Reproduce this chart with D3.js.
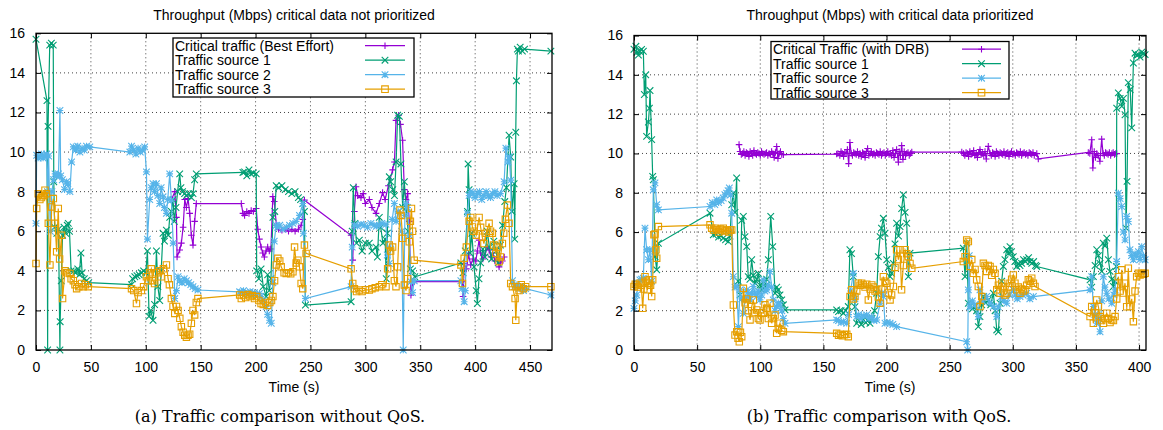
<!DOCTYPE html>
<html>
<head>
<meta charset="utf-8">
<script src="https://cdn.jsdelivr.net/npm/d3@7"></script>
<style>
  body { margin: 0; background: #fff; }
  text { font-family: "Liberation Sans", Arial, sans-serif; }
</style>
</head>
<body>
<svg id="chart" width="1163" height="430"></svg>
<script>
// ---- data: [time (s), throughput (Mbps)] ----
const yTicks = [0, 2, 4, 6, 8, 10, 12, 14, 16];
const leftXTicks = [0, 50, 100, 150, 200, 250, 300, 350, 400, 450];
const rightXTicks = [0, 50, 100, 150, 200, 250, 300, 350, 400];

const leftLegend = ["Critical traffic (Best Effort)", "Traffic source 1", "Traffic source 2", "Traffic source 3"];
const rightLegend = ["Critical Traffic (with DRB)", "Traffic source 1", "Traffic source 2", "Traffic source 3"];

const leftCritical = [[123.5,7.6],[126.4,8.0],[127.9,6.7],[128.5,4.7],[130.9,5.05],[132.4,5.4],[134,6.2],[135.5,7.6],[137,7.2],[138.5,7.65],[140,6.9],[141.5,5.8],[143,5.3],[144.5,6.5],[146,7.4],[187,7.4],[188.5,6.9],[190,6.8],[192,7.0],[194,6.9],[196,7.05],[198,7.0],[200.6,7.15],[202,6.1],[203.5,5.6],[205,5.2],[206.5,4.9],[208,4.7],[209.5,5.0],[211,5.2],[212.5,5.0],[214,5.1],[215.7,7.75],[217,7.5],[219,6.3],[221,6.1],[224,6.05],[227,6.1],[230,6.0],[233,6.1],[236,6.0],[239,6.1],[241.5,6.3],[243,6.6],[244.5,7.57],[287,5.8],[288.5,4.54],[290,7.0],[291.5,8.25],[293,7.8],[296,7.7],[298,7.9],[300,7.4],[303.6,7.6],[306,7.2],[309.7,6.9],[312.7,7.4],[315.7,7.95],[318,7.6],[321,8.3],[324.8,9.1],[326.5,9.5],[327.9,11.6],[330.3,11.86],[332,11.4],[333.9,10.6],[335.5,8.1],[337,7.6],[338.5,7.9],[340,6.5],[341.5,2.77],[343,3.4],[344.5,3.45],[388.5,3.45],[389,2.7],[390,4.37],[392,4.1],[394,4.8],[396,4.3],[398,4.6],[400.6,4.5],[402,5.0],[403.6,5.55],[405,4.9],[407,4.6],[409,4.8],[411,5.2],[412.7,5.05],[414.5,4.7],[416,4.9],[418,4.5],[420,4.7],[421.8,4.2],[423,4.4],[424.8,4.5],[426.5,4.7]];

const leftSrc1 = [[0,15.7],[10,12.6],[10.6,0],[11,11.3],[12.5,15.4],[14,15.5],[15.7,15.4],[16.2,8.5],[17,6.2],[19,5.9],[20.5,6.1],[21.8,0],[22,1.43],[23,3.5],[24.2,5.8],[25.5,6.2],[27,5.9],[28.5,6.3],[29.4,6.4],[30.5,6.0],[32,4.0],[34.5,4.0],[36,3.9],[38,4.1],[39.5,3.8],[40.9,4.9],[42,3.9],[44,3.6],[46,3.5],[48,3.4],[87,3.3],[88,3.6],[90,3.7],[92,3.75],[94,3.8],[96,3.9],[98,4.0],[100,3.9],[101.5,5.0],[103,1.7],[104.5,2.0],[106.6,1.5],[108,2.3],[109.7,5.0],[111,3.2],[112.7,2.5],[114,4.0],[115.7,5.9],[117,5.5],[118.8,6.05],[120.5,5.8],[121.8,6.7],[123.3,7.0],[124.8,7.6],[126,6.5],[127.5,7.2],[129,8.0],[130.9,8.9],[132,8.2],[133.5,8.0],[135.4,7.9],[137,7.8],[139,7.9],[141.5,7.7],[143,7.9],[144.5,8.6],[146,8.9],[188.5,8.97],[190,9.0],[192,8.8],[194,9.1],[196,8.9],[198,8.95],[200.6,8.9],[201,4.0],[203,3.6],[205,4.1],[207,3.2],[209.7,2.7],[211,3.8],[212.5,3.0],[214,3.6],[215.8,6.7],[217.5,7.0],[218.8,8.3],[221,8.2],[224,8.3],[227,8.1],[230,8.0],[233,7.9],[236,8.0],[239,7.7],[241,7.6],[243,7.4],[244.5,7.0],[245.4,2.27],[287,2.44],[288,6.0],[289,8.2],[290.5,6.4],[292,5.4],[294.5,5.55],[297,5.0],[300,5.4],[303.6,5.4],[306,5.0],[309.7,5.2],[311,4.7],[312.7,6.7],[314,6.2],[316,5.4],[318,5.6],[319,3.6],[320,5.9],[321.8,8.75],[323,8.5],[325,8.1],[326.5,7.8],[328,9.5],[329.4,11.86],[331,11.8],[332.4,9.4],[334,7.2],[335.5,8.5],[337,7.2],[339,6.0],[341,4.1],[343,4.0],[345,3.7],[387,4.4],[389,3.9],[391,5.0],[393,7.0],[393.6,9.4],[394.5,8.1],[395.5,4.9],[397,5.9],[399,4.2],[401,3.0],[402,2.35],[403.5,3.6],[405,4.4],[407,5.1],[409,4.7],[411,6.0],[413,5.2],[415,4.6],[417,5.5],[419,5.0],[421,4.4],[423,5.3],[425,6.3],[427,7.5],[428.5,8.2],[430.9,10.85],[432.4,9.75],[433.5,7.0],[435.5,8.4],[436,5.6],[437,11.0],[437.6,13.6],[438.5,15.2],[439.4,15.1],[441,15.3],[443,15.1],[445,15.2],[469,15.1]];

const leftSrc2 = [[0,6.4],[0.6,9.84],[2,9.7],[3.6,9.76],[5,9.9],[6.5,9.7],[8,9.8],[9.7,9.9],[10.5,8.0],[11.5,9.8],[13,6.0],[14.5,8.0],[16,8.6],[17.3,8.9],[19,8.8],[20.5,8.9],[21.8,12.1],[22.5,8.8],[24,8.6],[26,8.1],[27.9,8.5],[29,8.4],[30.9,8.0],[32.4,9.5],[34,10.26],[36,10.1],[38,10.3],[40,10.0],[42,10.2],[44,10.1],[46,10.3],[49,10.26],[85.5,10.0],[87,10.3],[89,10.1],[91,9.9],[93,10.2],[95,10.0],[97,10.1],[99,10.26],[100.6,9.0],[101.5,5.6],[103.6,7.6],[105,8.2],[106.6,8.4],[108,8.0],[109.7,8.4],[111,7.8],[112.7,7.4],[114,8.2],[115.7,7.74],[117,7.2],[118.8,6.9],[120,7.6],[121.8,8.9],[123.3,7.57],[125,5.4],[126.4,2.6],[127.9,3.0],[129.4,3.7],[131,3.5],[133,3.4],[135,3.6],[137,3.5],[139,3.4],[141,3.3],[143,3.2],[145,3.1],[147.5,3.03],[185.5,2.94],[187,2.9],[189,3.0],[191,2.85],[193,2.9],[195,2.95],[197,2.8],[199,2.9],[201,2.8],[203.6,2.86],[205,2.7],[207,2.5],[209.7,2.2],[211,1.8],[212.7,1.5],[214.3,1.35],[215.7,3.4],[217,5.5],[218.8,6.3],[220,6.2],[222,6.3],[225,6.1],[228,6.2],[231,6.3],[234,6.4],[237,6.5],[240,6.8],[243,7.4],[243.6,5.9],[245.4,2.6],[287,3.2],[288,5.2],[290,6.3],[293,6.25],[296,6.35],[299,6.3],[302,6.2],[305,6.4],[308,6.3],[310,6.25],[312.7,6.3],[315,6.4],[318.8,6.35],[320,4.8],[321.8,4.37],[323,5.1],[324.5,6.6],[326.4,7.4],[328,6.5],[330,7.0],[333,6.0],[334.5,0],[336,6.8],[337,7.4],[338.5,7.2],[340,5.8],[341.5,3.45],[343,2.9],[344.5,3.5],[387,3.5],[388,3.1],[390,2.44],[391,3.0],[393,6.9],[394.5,7.8],[396,8.0],[398,7.9],[400,7.7],[402,7.9],[404,8.0],[406,7.6],[408,7.8],[410,8.0],[412,7.8],[414,7.7],[416,7.9],[418,8.0],[420,7.8],[423,7.9],[426.4,8.5],[428,10.2],[430,9.5],[431,9.76],[432.4,8.58],[434,3.5],[436,3.2],[438,3.3],[440,3.1],[442,3.2],[444,3.0],[446,3.1],[469,2.78]];

const leftSrc3 = [[0,4.37],[0.6,7.15],[2,7.9],[3.5,7.6],[5,7.7],[6,7.8],[7.3,7.8],[8.2,8.07],[9.5,7.9],[11.2,6.4],[12.7,4.3],[14.3,7.23],[15.8,7.65],[17.3,6.4],[18.8,4.96],[20.3,7.15],[21.5,4.6],[23.3,5.8],[24.2,2.6],[26.4,4.0],[28,3.9],[30.9,3.87],[32,3.6],[34,3.5],[35.5,3.3],[37,3.1],[39,3.2],[41.5,3.36],[43,3.2],[45,3.3],[47.6,3.2],[87,3.1],[89,3.0],[91.5,2.35],[93,2.9],[96,3.0],[98,3.2],[100.6,3.7],[102,3.5],[103.5,3.9],[105,4.1],[106.5,3.5],[108,3.36],[110,3.9],[112.7,4.0],[114,3.7],[116,4.1],[118.8,4.3],[120.3,3.6],[121.5,3.3],[123.3,2.6],[124.8,2.2],[126.4,1.85],[128,2.2],[129.4,2.0],[131,1.6],[132.4,1.18],[134,0.9],[135.5,0.75],[137,0.65],[138.5,0.75],[140,0.8],[141.5,1.35],[143,2.0],[144.5,1.77],[146,2.4],[147.5,2.6],[185.5,2.78],[187,2.6],[189,2.75],[191,2.65],[193,2.8],[195,2.7],[197,2.75],[199,2.6],[201,2.7],[203,2.5],[205,2.35],[207,2.3],[209,2.4],[211,2.25],[213,2.4],[214.5,2.5],[215.8,2.7],[217.3,3.5],[218.8,4.3],[220.3,4.63],[222,4.5],[223.3,4.2],[226,3.9],[227.9,3.87],[230,3.9],[232,3.85],[234,3.95],[235.5,5.2],[237,4.4],[238.5,4.54],[240,4.2],[241.5,3.36],[243,3.1],[244.5,5.3],[246,4.88],[287,4.1],[288.5,3.36],[290,3.1],[292,2.95],[294.5,3.03],[297,2.95],[300,3.05],[303.6,3.03],[306,3.1],[309,3.15],[312.7,3.2],[315,3.3],[318.8,3.2],[320.3,4.1],[321.8,5.3],[323,5.0],[324.8,5.2],[326.4,3.5],[327.9,3.2],[329.4,4.2],[331.5,7.07],[332.5,6.8],[334,5.64],[335.5,3.28],[337,3.0],[338.5,3.6],[340,5.47],[341,6.5],[342,7.15],[343,6.0],[344.5,4.54],[387,4.3],[388.5,3.36],[390,4.63],[392,5.2],[394.5,6.5],[396,6.7],[397.5,6.22],[399,6.0],[401,5.8],[403.6,6.7],[405,6.2],[406.5,5.7],[408,5.38],[410,5.9],[412.7,6.4],[414,6.0],[415.7,5.9],[417,5.3],[418.8,4.88],[420,5.2],[421.8,4.46],[423,4.7],[424.8,5.38],[426,5.9],[427.5,6.6],[429.4,7.32],[430.9,6.4],[432.4,3.36],[434,3.2],[436.4,2.6],[437,1.5],[438.5,3.2],[440,3.0],[442,3.3],[444,3.1],[446,3.2],[469,3.2]];

const rightCritical = [[83.2,10.45],[84,10.1],[85,9.95],[86,10.0],[87,10.1],[88,9.9],[89,10.05],[90,10.0],[91,9.85],[92,10.1],[93,10.0],[94,9.9],[95,10.15],[96,10.0],[97,9.95],[98,10.05],[99,10.0],[100,9.9],[101,10.1],[102,10.0],[103,9.95],[104,10.0],[105,10.05],[106,9.9],[107,10.0],[108,9.95],[109,10.1],[110,10.0],[111,9.8],[112,10.05],[113,10.35],[114,9.75],[115,10.0],[116,10.1],[117,9.95],[118.3,9.94],[160.5,9.97],[161.5,10.0],[163,9.9],[164,10.1],[165,10.0],[166,9.85],[167,10.05],[168,10.0],[169,10.2],[170,9.48],[171,10.56],[172,10.0],[173,9.9],[174,10.05],[175,10.0],[176,9.95],[177,10.1],[178,9.9],[179,10.0],[180,9.85],[181,10.05],[182,10.0],[183,9.8],[184,10.1],[185,10.25],[186,9.9],[187,10.0],[188,10.1],[189,9.95],[190,10.0],[191,9.9],[192,10.05],[193,10.0],[194,9.95],[195,10.1],[196,9.9],[197,10.0],[198,10.05],[199,9.9],[200,10.0],[201,10.1],[202,9.95],[203,10.0],[204,9.9],[205,10.15],[206,9.8],[207,10.0],[208,10.2],[209.4,9.56],[210,10.1],[211,9.9],[212,10.4],[213,9.7],[214,10.1],[215,9.9],[216,10.0],[217,10.05],[218,9.9],[219,10.0],[220,10.07],[259.6,10.07],[261,10.0],[262,9.9],[263,10.05],[264,10.0],[265,9.85],[266,10.1],[267,9.95],[268,10.0],[269,10.15],[270,9.9],[271,10.0],[272,9.8],[273,10.05],[274,10.2],[275,9.95],[276,10.0],[277,9.9],[278,10.1],[279,9.72],[280.6,10.36],[282,10.0],[283,9.9],[284,10.05],[285,10.0],[286,9.85],[287,10.1],[288,10.0],[289,9.9],[290,10.05],[291,10.0],[292,9.95],[293,10.1],[294,9.9],[295,10.0],[296,10.05],[297,9.85],[298,10.0],[299,10.1],[300,9.95],[301,10.0],[302,9.9],[303,10.05],[304,10.0],[305,9.95],[306,10.1],[307,9.9],[308,10.0],[309,10.05],[310,9.95],[311,10.0],[312,9.9],[313,10.05],[314,10.0],[315,9.95],[316,10.05],[317,9.9],[319,9.99],[320.2,9.72],[359.8,10.05],[361,10.0],[362.5,10.7],[363.4,9.26],[364.5,10.1],[365.5,9.8],[366.5,10.0],[367.5,9.9],[369,9.6],[370.4,10.73],[371.5,10.0],[372.5,9.9],[373.5,10.05],[374.5,10.0],[375.5,9.95],[376.5,10.05],[377.5,9.9],[378.5,10.0],[379.5,10.05],[380.5,9.95],[381.5,10.0],[382.3,9.99]];

const rightSrc1 = [[0,15.3],[1.5,15.45],[2.4,15.15],[3.5,15.0],[4.5,15.2],[6,15.29],[7.4,15.2],[8.2,13.0],[9.3,14.0],[10,10.87],[11.4,11.6],[12.2,12.3],[12.7,13.2],[14,10.7],[14.8,8.83],[15.3,8.66],[16.7,4.75],[18,4.08],[19.3,5.43],[60.2,6.96],[62.8,5.86],[65,5.9],[67,5.75],[69,5.8],[70.7,5.69],[72.5,5.6],[74.7,5.52],[76,5.8],[77.4,7.39],[78.7,7.98],[80,7.0],[81.3,8.75],[82.5,3.5],[84,2.8],[85.3,6.6],[86.6,6.8],[87.9,5.77],[89.3,5.26],[90.5,3.73],[91.8,3.6],[93.2,4.59],[94.5,3.8],[95.9,3.4],[97.2,3.6],[98.5,3.9],[99.8,3.3],[101.1,3.06],[102.4,3.4],[103.7,3.23],[105,3.6],[106.4,4.59],[108.3,6.8],[109.9,5.26],[111.7,2.89],[113,3.2],[114.3,3.06],[115.6,2.8],[117,2.55],[118.3,2.3],[119.6,2.04],[160.5,2.04],[162,1.95],[164,2.0],[165.8,1.87],[167.5,2.0],[169.7,2.21],[171,5.1],[172.3,4.9],[173.7,3.73],[175,2.2],[176.4,1.36],[178,1.5],[180,1.3],[181.6,1.53],[183.5,1.4],[185,1.5],[186.9,1.36],[188.5,1.6],[190.5,2.0],[192.2,2.89],[193.5,4.75],[194.9,5.77],[196,6.2],[197.5,6.7],[198.8,5.94],[200.2,4.59],[201.5,4.2],[202.8,3.73],[204,3.9],[205.4,4.41],[206.7,5.4],[208,6.45],[209.5,5.8],[210.7,6.28],[212,7.2],[213.3,7.9],[214.7,7.0],[216,6.45],[217.3,3.73],[218.6,4.93],[260.8,5.18],[262.2,3.73],[263.5,5.44],[264.8,2.38],[266.1,2.21],[268,2.1],[270,2.2],[271.4,2.0],[272.7,1.19],[274,1.7],[275.4,2.3],[276.7,2.72],[278.5,2.4],[280.6,2.55],[282.5,2.3],[284.6,2.89],[286,2.0],[287.3,1.02],[288.6,0.93],[289.9,2.38],[291.2,3.5],[292.5,4.25],[293.8,4.6],[295.2,5.1],[296.5,4.9],[297.8,5.26],[299,5.0],[300.4,4.75],[301.7,4.5],[303.1,4.25],[304.5,4.4],[305.7,4.3],[307,4.41],[308.5,4.6],[310,4.5],[311,4.59],[312.5,4.7],[313.7,4.5],[315,4.41],[316.5,4.5],[318,4.3],[319,4.25],[361.2,3.57],[362.5,3.2],[363.8,3.73],[365.2,4.3],[366.5,5.1],[367.8,4.8],[369.1,4.41],[370.4,4.0],[371.7,5.44],[373,5.3],[374.4,5.69],[375.7,4.59],[377,4.0],[378.4,3.6],[379.7,3.23],[381,3.5],[382,4.25],[382.3,12.3],[383.6,13.08],[385,12.8],[386.3,12.4],[387.6,12.8],[388.9,11.97],[389.7,6.2],[390.5,8.58],[391.5,13.6],[393,13.25],[394.2,11.3],[395.5,14.6],[396.8,15.1],[398,15.0],[399.5,15.03],[400.8,14.9],[402.1,15.15],[403.5,15.1],[404.8,15.03]];

const rightSrc2 = [[0,2.12],[1,2.5],[2.1,2.8],[3.5,3.4],[4.7,3.57],[6,3.6],[7.4,3.65],[8.7,6.2],[10,5.1],[11.4,4.59],[12.7,5.1],[14,3.5],[15.3,8.15],[16.6,8.5],[18,7.39],[19.3,7.13],[60.2,7.3],[62,7.5],[64,7.4],[65.5,7.64],[67,7.5],[69,7.6],[70.7,7.73],[72,7.9],[73.4,7.98],[74.5,8.1],[75.5,8.24],[76.5,7.9],[77.4,6.96],[78.7,3.73],[80,3.2],[81.4,3.23],[82.7,1.19],[84,3.06],[85.3,2.6],[86.6,1.87],[88,2.6],[89.3,3.06],[90.6,2.8],[91.9,2.55],[93.2,2.9],[94.5,3.23],[95.8,2.9],[97.2,2.72],[98.5,3.0],[99.8,2.55],[101.1,2.8],[102.4,3.57],[103.7,3.0],[105.1,3.06],[106.4,3.3],[107.7,3.99],[109,3.2],[110.3,2.55],[111.7,2.0],[113,2.21],[114.3,2.4],[115.6,2.29],[117,2.0],[118.3,1.6],[119.6,1.36],[160.5,1.53],[162,1.5],[164,1.4],[166,1.45],[168.5,1.36],[170,1.8],[171.5,3.0],[173.7,3.9],[175,2.6],[176.4,1.7],[178,1.8],[180,1.6],[182,1.75],[184.3,1.78],[186,1.6],[188,1.7],[190,1.5],[192.2,1.53],[194.9,2.38],[196.5,2.9],[197.5,2.72],[198.8,1.36],[200.5,1.4],[202.8,1.36],[205,1.3],[208,1.19],[263.5,0.42],[264.3,0],[264.8,3.06],[265.5,4.8],[266.1,2.2],[268,2.5],[270,2.3],[272.7,1.7],[274,3.06],[276,2.5],[279.3,2.72],[282,2.4],[284.6,2.21],[287.3,1.7],[288.5,2.2],[291,2.72],[293,2.5],[295.2,2.38],[297.5,2.8],[300.4,3.06],[302,2.8],[303.5,2.6],[305.7,2.72],[308,2.8],[311,2.89],[313.5,2.6],[316.3,2.72],[361.2,3.06],[362.5,3.73],[363.8,2.21],[365,1.8],[366.5,1.36],[367.8,1.6],[369.1,0.93],[370.4,2.5],[371.7,3.73],[373,3.2],[374.4,2.89],[376,2.6],[378.4,2.38],[380,2.8],[381,3.06],[382.3,4.5],[383.6,7.98],[385,7.7],[386.3,7.3],[387.6,6.0],[388.9,5.6],[390.2,6.8],[391.5,6.54],[392.8,5.1],[394,4.8],[395.5,4.59],[396.8,4.9],[398.1,4.75],[399.5,5.0],[400.8,4.6],[402.1,5.26],[403.5,4.8],[404.8,4.59]];

const rightSrc3 = [[0,3.23],[1,3.35],[2.1,3.31],[3.4,3.2],[4.7,3.4],[5.8,3.3],[6.9,2.12],[7.8,3.1],[8.7,3.73],[9.6,3.5],[10.6,3.06],[11.4,3.4],[12.2,3.57],[13.1,3.3],[14,2.72],[14.8,3.57],[15.8,5.86],[16.6,5.9],[17.4,5.1],[18,4.67],[19.3,6.28],[60.2,6.37],[61.5,6.2],[63,6.1],[64.5,6.2],[65.5,6.11],[67,6.0],[68.5,6.15],[70,6.1],[70.7,6.2],[72,6.05],[73.5,6.1],[75,6.0],[76.2,6.1],[77.4,6.11],[78.7,2.29],[80,0.76],[81.4,0.93],[82.4,0.6],[83.4,0.42],[84.3,0.9],[85.3,0.68],[86.6,3.14],[88,2.4],[89.3,2.6],[90.6,2.0],[91.9,1.53],[93.2,2.2],[94.5,2.55],[95.8,1.9],[97.2,2.04],[98.5,1.6],[99.8,1.53],[101.1,1.9],[102.4,1.87],[103.7,2.3],[105.1,2.12],[106.4,1.6],[107.7,2.38],[109,1.36],[110.3,1.6],[111.7,1.78],[113,0.85],[114.3,1.1],[115.6,1.36],[117,1.0],[118.3,0.93],[160.5,0.85],[162,0.75],[163.5,0.8],[165,0.72],[166.5,0.78],[168.5,0.8],[169.7,0.68],[171.1,2.72],[172.4,3.06],[173.7,2.6],[175,2.72],[176.4,3.0],[177.7,3.4],[179,3.3],[180.3,3.4],[181.6,3.31],[183,3.2],[184.3,3.35],[185.6,2.55],[187,3.1],[188.3,3.31],[189.6,3.2],[190.9,3.0],[192.2,3.06],[193.5,2.7],[194.9,2.38],[196.2,3.1],[197.5,3.73],[198.8,3.5],[200.1,3.4],[201.4,2.9],[202.8,2.55],[204,2.8],[205.4,3.23],[206.7,4.2],[208,5.1],[209.4,4.6],[210.7,5.1],[211.9,3.06],[213.3,4.3],[214.7,5.1],[216,4.9],[217.3,4.75],[218.6,4.4],[220,4.16],[260.8,4.5],[262.2,4.75],[263.5,5.6],[264.8,5.52],[266.1,4.25],[267.5,4.6],[268.8,3.9],[270.1,4.1],[271.4,3.57],[272.7,3.23],[274,2.21],[275.4,2.72],[276.7,4.41],[278,4.3],[279.3,4.0],[280.6,4.3],[282,4.25],[283.3,3.8],[284.6,4.1],[285.9,3.9],[287.3,3.06],[288.6,3.3],[289.9,2.89],[291.2,3.4],[292.5,3.23],[293.8,2.8],[295.2,2.89],[296.5,3.2],[297.8,3.4],[299.1,3.6],[300.4,3.82],[301.7,3.4],[303.1,3.06],[304.4,3.2],[305.7,2.89],[307,3.1],[308.4,3.0],[309.7,3.06],[311,3.3],[312.3,3.57],[313.6,3.5],[315,3.65],[316.3,3.4],[317.6,3.23],[361.2,1.7],[362.5,2.21],[363.8,1.36],[365.2,1.9],[366.5,2.55],[367.8,2.2],[369.1,1.7],[370.4,1.5],[371.7,1.36],[373,1.6],[374.4,1.87],[375.7,1.6],[377,1.4],[378.4,1.53],[379.7,1.5],[381,1.7],[382.3,2.6],[383.6,3.73],[385,3.0],[386.3,4.08],[387.6,2.9],[388.9,3.4],[390.2,2.2],[391.5,4.16],[392.8,2.21],[394.2,2.6],[395.5,1.44],[396.8,3.0],[398.1,3.73],[399.5,3.9],[400.8,3.82],[402.1,3.9],[403.5,3.85],[404.8,3.9]];

// gnuplot default line colours / point types
const seriesStyle = [
    { color: "#9400d3", point: "plus" },
    { color: "#009e73", point: "cross" },
    { color: "#56b4e9", point: "star" },
    { color: "#e69f00", point: "square" }
];

function pointPath(type, s) {
    const plus = `M${-s},0H${s}M0,${-s}V${s}`;
    const cross = `M${-s},${-s}L${s},${s}M${-s},${s}L${s},${-s}`;
    if (type === "plus") return plus;
    if (type === "cross") return cross;
    if (type === "star") return plus + cross;
    return `M${-s},${-s}H${s}V${s}H${-s}Z`;
}

const svg = d3.select("#chart");

function drawPanel(cfg) {
    const x = d3.scaleLinear().domain([0, cfg.xMax]).range([cfg.left, cfg.right]);
    const y = d3.scaleLinear().domain([0, 16]).range([cfg.bottom, cfg.top]);
    const g = svg.append("g");

    // dotted grid
    g.append("g").selectAll("line").data(cfg.xTicks.filter(t => t > 0)).join("line")
        .attr("x1", d => x(d)).attr("x2", d => x(d))
        .attr("y1", cfg.top).attr("y2", cfg.bottom)
        .attr("stroke", "#444").attr("stroke-width", 1).attr("stroke-dasharray", "1,3");
    g.append("g").selectAll("line").data(yTicks.filter(t => t > 0 && t < 16)).join("line")
        .attr("x1", cfg.left).attr("x2", cfg.right)
        .attr("y1", d => y(d)).attr("y2", d => y(d))
        .attr("stroke", "#444").attr("stroke-width", 1).attr("stroke-dasharray", "1,3");

    // series
    const line = d3.line().x(d => x(d[0])).y(d => y(d[1]));
    const clip = "clip-" + cfg.id;
    svg.append("clipPath").attr("id", clip).append("rect")
        .attr("x", cfg.left - 4).attr("y", cfg.top - 4)
        .attr("width", cfg.right - cfg.left + 8).attr("height", cfg.bottom - cfg.top + 8);
    const plot = g.append("g").attr("clip-path", `url(#${clip})`);

    cfg.series.forEach((data, i) => {
        const st = seriesStyle[i];
        plot.append("path").datum(data)
            .attr("fill", "none").attr("stroke", st.color).attr("stroke-width", 1.2)
            .attr("d", line);
        plot.append("g").selectAll("path").data(data).join("path")
            .attr("transform", d => `translate(${x(d[0])},${y(d[1])})`)
            .attr("d", pointPath(st.point, st.point === "square" ? 3.2 : 3.3))
            .attr("fill", "none").attr("stroke", st.color).attr("stroke-width", 1.1);
    });

    // frame and inward ticks on all four sides
    g.append("rect").attr("x", cfg.left).attr("y", cfg.top)
        .attr("width", cfg.right - cfg.left).attr("height", cfg.bottom - cfg.top)
        .attr("fill", "none").attr("stroke", "#000").attr("stroke-width", 1.3);

    const xAxis = d3.axisBottom(x).tickValues(cfg.xTicks).tickSize(-5).tickPadding(12);
    const xAxisTop = d3.axisTop(x).tickValues(cfg.xTicks).tickSize(-5).tickFormat("");
    const yAxis = d3.axisLeft(y).tickValues(yTicks).tickSize(-5).tickPadding(11);
    const yAxisRight = d3.axisRight(y).tickValues(yTicks).tickSize(-5).tickFormat("");

    g.append("g").attr("transform", `translate(0,${cfg.bottom})`).call(xAxis);
    g.append("g").attr("transform", `translate(0,${cfg.top})`).call(xAxisTop);
    g.append("g").attr("transform", `translate(${cfg.left},0)`).call(yAxis);
    g.append("g").attr("transform", `translate(${cfg.right},0)`).call(yAxisRight);
    g.selectAll(".domain").remove();
    g.selectAll(".tick line").attr("stroke", "#000").attr("stroke-width", 1);
    g.selectAll(".tick text").attr("font-size", 14).attr("fill", "#000")
        .attr("font-family", "Liberation Sans, Arial, sans-serif");

    // legend with opaque box
    const lg = g.append("g");
    lg.append("rect").attr("x", cfg.legend.x).attr("y", cfg.legend.y)
        .attr("width", cfg.legend.w).attr("height", cfg.legend.h)
        .attr("fill", "#fff").attr("stroke", "#000").attr("stroke-width", 1.3);
    cfg.legendLabels.forEach((label, i) => {
        const st = seriesStyle[i];
        const by = cfg.legend.y + 12.5 + i * 14.5;
        lg.append("text").attr("x", cfg.legend.x + 2).attr("y", by)
            .attr("font-size", 14).text(label);
        lg.append("line").attr("x1", cfg.legend.sx1).attr("x2", cfg.legend.sx2)
            .attr("y1", by - 4.8).attr("y2", by - 4.8)
            .attr("stroke", st.color).attr("stroke-width", 1.2);
        lg.append("path")
            .attr("transform", `translate(${(cfg.legend.sx1 + cfg.legend.sx2) / 2},${by - 4.8})`)
            .attr("d", pointPath(st.point, 3.3))
            .attr("fill", "none").attr("stroke", st.color).attr("stroke-width", 1.1);
    });

    const cx = (cfg.left + cfg.right) / 2;
    svg.append("text").attr("x", cx).attr("y", 19.5).attr("text-anchor", "middle")
        .attr("font-size", 14).text(cfg.title);
    svg.append("text").attr("x", cx).attr("y", 391.5).attr("text-anchor", "middle")
        .attr("font-size", 14).text("Time (s)");
    svg.append("text").attr("x", cfg.captionX).attr("y", 421.5).attr("text-anchor", "middle")
        .style("font-family", "'DejaVu Serif', serif")
        .attr("font-size", 16).text(cfg.caption);
}

drawPanel({
    id: "a", left: 36, right: 552, top: 33.3, bottom: 350, xMax: 470,
    xTicks: leftXTicks,
    series: [leftCritical, leftSrc1, leftSrc2, leftSrc3],
    legendLabels: leftLegend,
    legend: { x: 173, y: 38, w: 241, h: 59, sx1: 365, sx2: 405 },
    title: "Throughput (Mbps) critical data not prioritized",
    caption: "(a) Traffic comparison without QoS.",
    captionX: 280
});

drawPanel({
    id: "b", left: 634, right: 1146, top: 35.5, bottom: 350, xMax: 405.5,
    xTicks: rightXTicks,
    series: [rightCritical, rightSrc1, rightSrc2, rightSrc3],
    legendLabels: rightLegend,
    legend: { x: 771, y: 41.5, w: 238, h: 57.5, sx1: 962, sx2: 1001 },
    title: "Throughput (Mbps) with critical data prioritized",
    caption: "(b) Traffic comparison with QoS.",
    captionX: 879
});
</script>
</body>
</html>
